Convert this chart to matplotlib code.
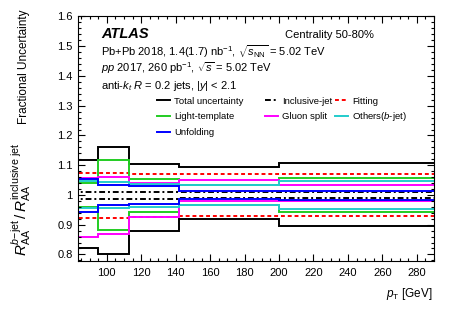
import matplotlib
matplotlib.use('Agg')
import matplotlib.pyplot as plt
from matplotlib.lines import Line2D
from matplotlib.legend import Legend
from matplotlib.ticker import MultipleLocator

plt.rcParams['font.family'] = ['Liberation Sans', 'DejaVu Sans']
plt.rcParams['mathtext.fontset'] = 'custom'
plt.rcParams['mathtext.rm'] = 'Liberation Sans'
plt.rcParams['mathtext.it'] = 'Liberation Sans:italic'
plt.rcParams['mathtext.bf'] = 'Liberation Sans:bold'

# pT bin edges [GeV]
edges = [80, 95, 113, 142, 200, 290]

# upper / lower edges of each uncertainty band, per bin
total_up = [1.116, 1.160, 1.105, 1.094, 1.106]
total_dn = [0.822, 0.803, 0.878, 0.918, 0.894]
incl_up = [1.011, 1.011, 1.011, 1.011, 1.010]
incl_dn = [0.988, 0.988, 0.988, 0.989, 0.990]
fit_up = [1.075, 1.075, 1.072, 1.071, 1.072]
fit_dn = [0.924, 0.924, 0.925, 0.929, 0.928]
light_up = [1.041, 1.117, 1.053, 1.034, 1.056]
light_dn = [0.961, 0.883, 0.944, 0.966, 0.944]
gluon_up = [1.058, 1.062, 1.041, 1.049, 1.033]
gluon_dn = [0.858, 0.869, 0.926, 0.981, 0.980]
others_up = [1.046, 1.044, 1.036, 1.033, 1.048]
others_dn = [0.955, 0.956, 0.960, 0.967, 0.952]
unf_up = [1.053, 1.033, 1.030, 1.014, 1.013]
unf_dn = [0.944, 0.967, 0.970, 0.986, 0.983]

components = [
    ('Total uncertainty', total_up, total_dn, 'black', '-'),
    ('Inclusive-jet', incl_up, incl_dn, 'black', (0, (3, 1.5, 1, 1.5))),
    ('Fitting', fit_up, fit_dn, '#ff0000', (0, (2, 1.5))),
    ('Light-template', light_up, light_dn, '#22cc22', '-'),
    ('Gluon split', gluon_up, gluon_dn, '#ff00ff', '-'),
    ('Others($b$-jet)', others_up, others_dn, '#22cccc', '-'),
    ('Unfolding', unf_up, unf_dn, '#0000ff', '-'),
]

fig = plt.figure(figsize=(4.57, 3.11), dpi=100)
ax = fig.add_axes([0.1696, 0.1608, 0.7801, 0.7862])

handles = {}
for label, up, dn, col, ls in components:
    for vals in (up, dn):
        ax.stairs(vals, edges, baseline=None, color=col, linestyle=ls, linewidth=1.4)
    handles[label] = Line2D([], [], color=col, linestyle=ls, linewidth=1.4)

ax.set_xlim(83, 290)
ax.set_ylim(0.778, 1.6)

ax.xaxis.set_major_locator(MultipleLocator(20))
ax.xaxis.set_minor_locator(MultipleLocator(5))
ax.yaxis.set_major_locator(MultipleLocator(0.1))
ax.yaxis.set_minor_locator(MultipleLocator(0.02))
ax.yaxis.set_major_formatter(plt.FuncFormatter(lambda v, p: f'{v:.1f}'.replace('1.0', '1')))
ax.tick_params(which='both', direction='in', top=True, right=True, labelsize=8, width=0.8)
ax.tick_params(which='major', length=5)
ax.tick_params(which='minor', length=2.5)
ax.tick_params(axis='x', pad=5)
for sp in ax.spines.values():
    sp.set_linewidth(0.8)

# labels
fig.text(433 / 457, 1 - 297 / 311, r'$p_{\mathrm{T}}$ [GeV]', ha='right', va='baseline', fontsize=8.5)
fig.text(24 / 457, 1 - 10 / 311, 'Fractional Uncertainty', rotation=90, ha='center', va='top', fontsize=8.5)
fig.text(21 / 457, 1 - 143 / 311, r'$R^{b\mathrm{-jet}}_{\mathrm{AA}}\,/\,R^{\mathrm{inclusive\ jet}}_{\mathrm{AA}}$',
         rotation=90, ha='center', va='top', fontsize=11)

# annotations
tx = 0.066
ax.text(tx, 0.912, 'ATLAS', transform=ax.transAxes, fontsize=10.5, fontweight='bold', fontstyle='italic')
ax.text(0.83, 0.912, 'Centrality 50-80%', transform=ax.transAxes, fontsize=8, ha='right')
ax.text(tx, 0.838, r'Pb+Pb 2018, 1.4(1.7) nb$^{-1}$, $\sqrt{s_{\mathrm{NN}}}$ = 5.02 TeV', transform=ax.transAxes, fontsize=8)
ax.text(tx, 0.772, r'$pp$ 2017, 260 pb$^{-1}$, $\sqrt{s}$ = 5.02 TeV', transform=ax.transAxes, fontsize=8)
ax.text(tx, 0.703, r'anti-$k_{t}$ $R$ = 0.2 jets, |$y$| < 2.1', transform=ax.transAxes, fontsize=8)

# legend, one entry at a time (three columns)
legend_pos = {
    'Total uncertainty': (0.223, 0.654),
    'Light-template': (0.223, 0.589),
    'Unfolding': (0.223, 0.524),
    'Inclusive-jet': (0.526, 0.654),
    'Gluon split': (0.526, 0.589),
    'Fitting': (0.722, 0.654),
    'Others($b$-jet)': (0.722, 0.589),
}
for label, (lx, ly) in legend_pos.items():
    leg = Legend(ax, [handles[label]], [label], loc='center left', bbox_to_anchor=(lx, ly),
                 frameon=False, fontsize=6.8, handlelength=1.4, handletextpad=0.4,
                 borderpad=0, borderaxespad=0)
    ax.add_artist(leg)

fig.savefig('out.png', dpi=100)
